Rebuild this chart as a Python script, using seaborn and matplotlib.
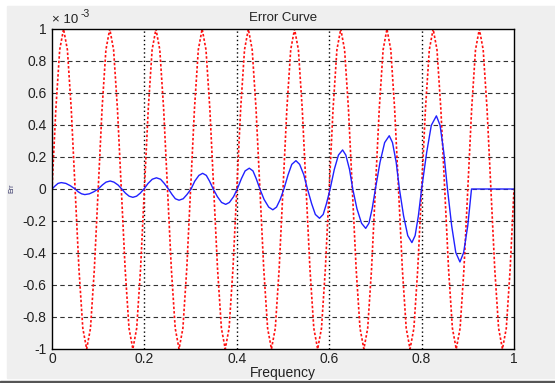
import numpy as np
import pandas as pd
import matplotlib
matplotlib.use("Agg")
import matplotlib.pyplot as plt
import seaborn as sns
from matplotlib.patches import Rectangle

# error curve (values in units of 1e-3)
err_freq = [
    0.000, 0.007, 0.013, 0.020, 0.030, 0.040, 0.050,
    0.057, 0.064, 0.071, 0.081, 0.090, 0.100,
    0.109, 0.117, 0.126, 0.134, 0.143, 0.151,
    0.159, 0.167, 0.175, 0.183, 0.191, 0.199,
    0.208, 0.217, 0.226, 0.235, 0.243, 0.252,
    0.260, 0.267, 0.275, 0.284, 0.292, 0.301,
    0.309, 0.318, 0.326, 0.334, 0.341, 0.349,
    0.358, 0.367, 0.376, 0.384, 0.393, 0.401,
    0.410, 0.418, 0.427, 0.435, 0.442, 0.450,
    0.459, 0.469, 0.478, 0.486, 0.494, 0.502,
    0.511, 0.519, 0.528, 0.536, 0.545, 0.553,
    0.562, 0.570, 0.579, 0.587, 0.594, 0.602,
    0.611, 0.620, 0.629, 0.636, 0.644, 0.651,
    0.660, 0.670, 0.679, 0.686, 0.693, 0.700,
    0.710, 0.720, 0.730, 0.737, 0.745, 0.752,
    0.761, 0.770, 0.779, 0.786, 0.793, 0.800,
    0.811, 0.821, 0.832, 0.840, 0.848, 0.856,
    0.865, 0.874, 0.883, 0.891, 0.900, 0.908,
    1.000,
]
err_vals = [
    0.000, 0.020, 0.035, 0.040, 0.035, 0.020, 0.000,
    -0.018, -0.030, -0.035, -0.030, -0.018, 0.000,
    0.025, 0.043, 0.050, 0.043, 0.025, 0.000,
    -0.026, -0.045, -0.052, -0.045, -0.026, 0.000,
    0.035, 0.061, 0.070, 0.061, 0.035, 0.000,
    -0.035, -0.061, -0.070, -0.061, -0.035, 0.000,
    0.049, 0.085, 0.098, 0.085, 0.049, 0.000,
    -0.048, -0.084, -0.096, -0.084, -0.048, 0.000,
    0.065, 0.113, 0.130, 0.113, 0.065, 0.000,
    -0.065, -0.113, -0.130, -0.113, -0.065, 0.000,
    0.089, 0.154, 0.177, 0.154, 0.089, 0.000,
    -0.092, -0.159, -0.183, -0.159, -0.092, 0.000,
    0.122, 0.212, 0.244, 0.212, 0.122, 0.000,
    -0.123, -0.214, -0.246, -0.214, -0.123, 0.000,
    0.167, 0.290, 0.333, 0.290, 0.167, 0.000,
    -0.168, -0.291, -0.335, -0.291, -0.168, 0.000,
    0.229, 0.398, 0.457, 0.398, 0.229, 0.000,
    -0.228, -0.397, -0.456, -0.397, -0.228, 0.000,
    0.000,
]

# red reference ripple, sampled every 1/120 in frequency
ref_freq = np.linspace(0, 1, 121)
ref_vals = [
    0, 0.5, 0.87, 1, 0.87, 0.5, 0, -0.5, -0.87, -1, -0.87, -0.5,
    0, 0.5, 0.87, 1, 0.87, 0.5, 0, -0.5, -0.87, -1, -0.87, -0.5,
    0, 0.5, 0.87, 1, 0.87, 0.5, 0, -0.5, -0.87, -1, -0.87, -0.5,
    0, 0.5, 0.87, 1, 0.87, 0.5, 0, -0.5, -0.87, -1, -0.87, -0.5,
    0, 0.5, 0.87, 1, 0.87, 0.5, 0, -0.5, -0.87, -1, -0.87, -0.5,
    0, 0.5, 0.87, 1, 0.87, 0.5, 0, -0.5, -0.87, -1, -0.87, -0.5,
    0, 0.5, 0.87, 1, 0.87, 0.5, 0, -0.5, -0.87, -1, -0.87, -0.5,
    0, 0.5, 0.87, 1, 0.87, 0.5, 0, -0.5, -0.87, -1, -0.87, -0.5,
    0, 0.5, 0.87, 1, 0.87, 0.5, 0, -0.5, -0.87, -1, -0.87, -0.5,
    0, 0.5, 0.87, 1, 0.87, 0.5, 0, -0.5, -0.87, -1, -0.87, -0.5,
    0,
]

x_ticks = [0, 0.2, 0.4, 0.6, 0.8, 1]
x_labels = ["0", "0.2", "0.4", "0.6", "0.8", "1"]
y_ticks = [-1, -0.8, -0.6, -0.4, -0.2, 0, 0.2, 0.4, 0.6, 0.8, 1]
y_labels = ["-1", "-0.8", "-0.6", "-0.4", "-0.2", "0", "0.2", "0.4", "0.6", "0.8", "1"]

sns.set_theme(style="white")
plt.rcParams["font.family"] = ["Liberation Sans", "DejaVu Sans"]

fig = plt.figure(figsize=(5.55, 3.83), dpi=100, facecolor="white")
# gray window background, drawn behind everything
fig.patches.append(Rectangle((7 / 555, 5 / 383), 1, 1 - 11 / 383,
                             transform=fig.transFigure, color="#efefef", zorder=-10))
fig.patches.append(Rectangle((0, 0), 1, 2 / 383, transform=fig.transFigure,
                             color="#555555", zorder=-10))

ax = fig.add_axes([52 / 555, 34 / 383, 462 / 555, 320 / 383])
ax.set_facecolor("white")

ref_df = pd.DataFrame({"freq": ref_freq, "err": ref_vals})
err_df = pd.DataFrame({"freq": err_freq, "err": err_vals})

sns.lineplot(data=ref_df, x="freq", y="err", ax=ax, color="#ff1010",
             linestyle=(0, (1.5, 1.2)), linewidth=1.2, estimator=None, sort=False)
sns.lineplot(data=err_df, x="freq", y="err", ax=ax, color="#2020ff",
             linewidth=1.0, estimator=None, sort=False)

ax.set_xlim(0, 1)
ax.set_ylim(-1, 1)
ax.set_xticks(x_ticks)
ax.set_xticklabels(x_labels)
ax.set_yticks(y_ticks)
ax.set_yticklabels(y_labels)

# grid: horizontal dashed, vertical dotted
for yv in y_ticks[1:-1]:
    ax.axhline(yv, color="#333333", linestyle=(0, (4, 3)), linewidth=0.8, zorder=0)
for xv in x_ticks[1:-1]:
    ax.axvline(xv, color="black", linestyle=(0, (1, 2)), linewidth=1.0, zorder=0)

for s in ax.spines.values():
    s.set_color("black")
    s.set_linewidth(1.0)
    s.set_visible(True)

ax.tick_params(direction="in", length=3, labelsize=10, colors="black",
               labelcolor="#222222", pad=4)
ax.tick_params(axis="x", pad=2)

ax.set_xlabel("Frequency", fontsize=10, color="#222222", labelpad=0)
ax.set_ylabel("")
ax.set_title("Error Curve", fontsize=9.5, color="#222222", pad=6)
fig.text(8 / 555, 1 - 188 / 383, "Err", rotation=90, fontsize=5,
         color="#333366", ha="left", va="center")
fig.text(52 / 555, 1 - 20 / 383, "\u00d7 10", fontsize=9.5,
         color="#222222", ha="left", va="center")
fig.text(81 / 555, 1 - 14 / 383, "-3", fontsize=7.5,
         color="#222222", ha="left", va="center")

fig.savefig("out.png", dpi=100, facecolor=fig.get_facecolor())
